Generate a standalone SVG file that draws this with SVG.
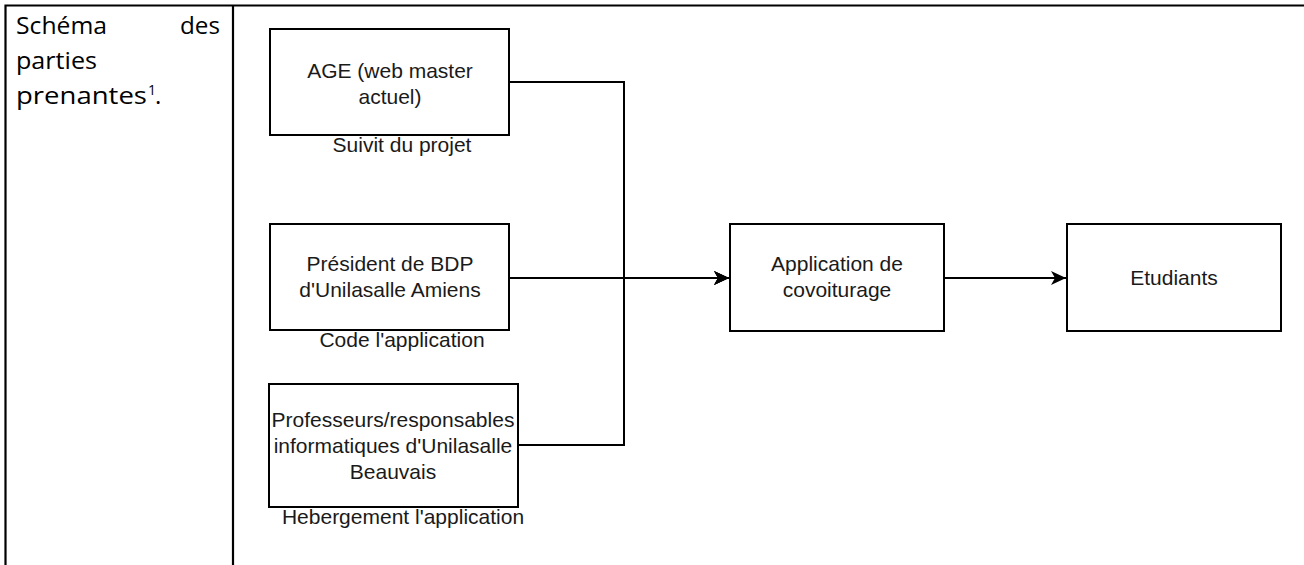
<svg xmlns="http://www.w3.org/2000/svg" width="1304" height="565" viewBox="0 0 1304 565">
<defs>
<style>
.box{fill:#fff;stroke:#000;stroke-width:2}
.t{font-family:"Liberation Sans",Arial,sans-serif;font-size:21px;fill:#1a1a1a;text-anchor:middle}
.c{fill:none;stroke:#000;stroke-width:2}
.tbl{fill:none;stroke:#000;stroke-width:2.2}
.doc{font-family:"Open Sans","Noto Sans",sans-serif;font-size:24px;fill:#000}
</style>
<marker id="arr" markerWidth="18" markerHeight="16" viewBox="0 0 18 16" refX="16" refY="8" orient="auto" markerUnits="userSpaceOnUse">
<path d="M16,8 L1,1 L5,8 L1,15 Z" fill="#000"/>
</marker>
</defs>
<rect width="1304" height="565" fill="#fff"/>
<g id="table">
<path class="tbl" d="M5.5,565 V5.5 H1304 M233,5.5 V565"/>
<text class="doc" x="16" y="34" textLength="91" lengthAdjust="spacingAndGlyphs">Schéma</text>
<text class="doc" x="180" y="34" textLength="40" lengthAdjust="spacingAndGlyphs">des</text>
<text class="doc" x="16" y="69" textLength="81" lengthAdjust="spacingAndGlyphs">parties</text>
<text class="doc" x="16" y="104" textLength="131" lengthAdjust="spacingAndGlyphs">prenantes</text>
<text class="doc" x="148" y="95" style="font-size:14px">1</text>
<text class="doc" x="155" y="104">.</text>
</g>
<g id="connectors">
<polyline class="c" points="509,82 624,82 624,278 729,278" marker-end="url(#arr)"/>
<polyline class="c" points="518,445 624,445 624,278 729,278" marker-end="url(#arr)"/>
<polyline class="c" points="509,278 729,278" marker-end="url(#arr)"/>
<polyline class="c" points="944,278 1066,278" marker-end="url(#arr)"/>
</g>
<g id="age">
<rect class="box" x="270" y="29" width="239" height="106"/>
<text class="t" x="390" y="78">AGE (web master</text>
<text class="t" x="390" y="104">actuel)</text>
<text class="t" x="402" y="152">Suivit du projet</text>
</g>
<g id="president">
<rect class="box" x="270" y="224" width="239" height="106"/>
<text class="t" x="390" y="271">Président de BDP</text>
<text class="t" x="390" y="297">d'Unilasalle Amiens</text>
<text class="t" x="402" y="347">Code l'application</text>
</g>
<g id="professeurs">
<rect class="box" x="269" y="384" width="249" height="123"/>
<text class="t" x="393" y="427">Professeurs/responsables</text>
<text class="t" x="393" y="453">informatiques d'Unilasalle</text>
<text class="t" x="393" y="479">Beauvais</text>
<text class="t" x="403" y="524">Hebergement l'application</text>
</g>
<g id="application">
<rect class="box" x="730" y="224" width="214" height="107"/>
<text class="t" x="837" y="271">Application de</text>
<text class="t" x="837" y="297">covoiturage</text>
</g>
<g id="etudiants">
<rect class="box" x="1067" y="224" width="214" height="107"/>
<text class="t" x="1174" y="285">Etudiants</text>
</g>
</svg>
